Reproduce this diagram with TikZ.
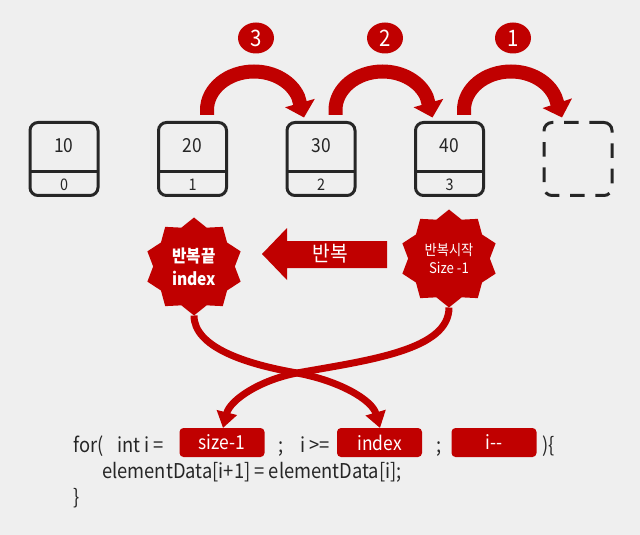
\documentclass[tikz,border=0pt]{standalone}
\usepackage{fontspec}
\setmainfont[FakeStretch=0.9]{Noto Sans CJK KR}
\usetikzlibrary{arrows.meta,shapes.geometric,calc}
\definecolor{bg}{HTML}{EFEFEF}
\definecolor{myred}{HTML}{C00000}
\definecolor{ink}{HTML}{262626}
\newcommand{\codefont}{\fontsize{15.3pt}{18pt}\selectfont}
\begin{document}
\begin{tikzpicture}[x=0.75pt,y=-0.75pt,
  cell/.style={draw=ink,line width=2.25pt,rounded corners=6pt,minimum width=51pt,minimum height=54.75pt,inner sep=0pt,outer sep=0pt},
  celltxt/.style={text=ink,font=\fontsize{14.5pt}{16pt}\selectfont,inner sep=0pt},
  idxtxt/.style={text=ink,font=\fontsize{12pt}{14pt}\selectfont,inner sep=0pt},
  divider/.style={draw=ink,line width=2.25pt},
  badge/.style={ellipse,fill=myred,minimum width=27pt,minimum height=23.25pt,inner sep=0pt,text=white,font=\fontsize{17pt}{19pt}\selectfont},
  burst/.style={star,star points=10,star point ratio=1.2,fill=myred,minimum size=73.5pt,inner sep=0pt,outer sep=0pt,text=white,align=center},
  hop/.style={draw=myred,line width=10.5pt,-{Triangle[width=22.5pt,length=11.25pt]}},
  link/.style={draw=myred,line width=5.25pt,-{Triangle[width=15pt,length=12pt]}},
  slot/.style={fill=myred,rounded corners=3pt,minimum width=63.75pt,minimum height=21.75pt,inner sep=0pt,outer sep=0pt,text=white,font=\fontsize{14.5pt}{16pt}\selectfont},
  code/.style={anchor=base west,text=ink,font=\codefont,inner sep=0pt}
]
\useasboundingbox (0,0) rectangle (640,535);
\fill[bg] (0,0) rectangle (640,535);

% array cells
\node[cell] (b0) at (64,159) {};
\node[cell] (b1) at (192.5,159) {};
\node[cell] (b2) at (321,159) {};
\node[cell] (b3) at (449.5,159) {};
\node[cell,dashed,dash pattern=on 11pt off 8pt] (b4) at (578,159) {};
\foreach \b in {b0,b1,b2,b3}
  \draw[divider] ([yshift=-9.75pt]\b.west) -- ([yshift=-9.75pt]\b.east);
\node[celltxt] (n0) at (64,146) {10};
\node[celltxt] (n1) at (192.5,146) {20};
\node[celltxt] (n2) at (321,146) {30};
\node[celltxt] (n3) at (449.5,146) {40};
\node[idxtxt] (i0) at (64,185) {0};
\node[idxtxt] (i1) at (192.5,185) {1};
\node[idxtxt] (i2) at (321,185) {2};
\node[idxtxt] (i3) at (449.5,185) {3};

% hop arrows
\draw[hop] ($(b1.north)+(14.5,-7.5)$) -- ++(0,-5) arc[start angle=180,end angle=340,x radius=47,y radius=38.5] -- ($(b2.north)+(-17,-5)$);
\draw[hop] ($(b2.north)+(14.5,-7.5)$) -- ++(0,-5) arc[start angle=180,end angle=340,x radius=47,y radius=38.5] -- ($(b3.north)+(-17,-5)$);
\draw[hop] ($(b3.north)+(14.5,-7.5)$) -- ++(0,-5) arc[start angle=180,end angle=340,x radius=47,y radius=38.5] -- ($(b4.north)+(-16,-5)$);

% step badges
\node[badge] (c3) at (256,38) {3};
\node[badge] (c2) at (385,38) {2};
\node[badge] (c1) at (513,38) {1};

% bursts
\node[burst,font=\bfseries\fontsize{13pt}{17pt}\selectfont] (L) at (194,266.5) {반복끝\\index};
\node[burst,font=\fontsize{11pt}{13.5pt}\selectfont] (R) at (449,258.5) {반복시작\\Size -1};

% middle arrow
\fill[myred] (262,254) -- (287,228) -- (287,241) -- (387,241) -- (387,268) -- (287,268) -- (287,280) -- cycle;
\node[text=white,font=\fontsize{16pt}{18pt}\selectfont,inner sep=0pt] (rep) at (330,254) {반복};

% code slots
\node[slot] (sz) at (222,442.5) {size-1};
\node[slot] (ix) at (379.5,442.5) {index};
\node[slot] (dec) at (494,442.5) {i-{}-};

% links
\draw[link] (R.south) .. controls (449,350) and (370,360) .. (297,373) .. controls (260,380) and (230,400) .. ($(sz.north)+(1,0)$);
\draw[link] (L.south) .. controls (194,347) and (245,364) .. (297,373) .. controls (340,381) and (372,400) .. ($(ix.north)+(0.5,0)$);

% code text
\node[code] (t1) at (73,452) {for(};
\node[code] (t2) at (117,452) {int i =};
\node[code] (t3) at (278,452) {;};
\node[code] (t4) at (300,452) {i >=};
\node[code] (t5) at (436,452) {;};
\node[code] (t6) at (542,452) {)\{};
\node[code] (t7) at (102,478) {elementData[i+1] = elementData[i];};
\node[code] (t8) at (73,504) {\}};
\end{tikzpicture}
\end{document}
